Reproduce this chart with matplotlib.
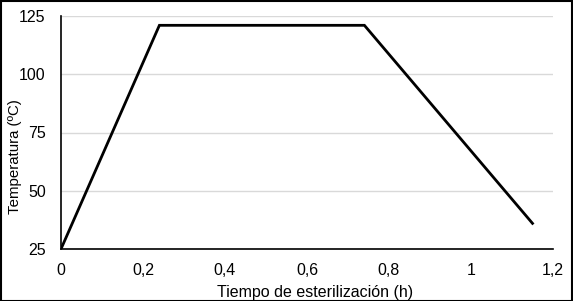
import matplotlib
matplotlib.use("Agg")
import matplotlib.pyplot as plt
from matplotlib.patches import Rectangle

time_h = [0, 0.24, 0.74, 1.15]
temp_c = [25, 121, 121, 36]
xticks = [0, 0.2, 0.4, 0.6, 0.8, 1, 1.2]
xticklabels = ["0", "0,2", "0,4", "0,6", "0,8", "1", "1,2"]
yticks = [25, 50, 75, 100, 125]

plt.rcParams['font.family'] = ['Liberation Sans', 'DejaVu Sans']
fig = plt.figure(figsize=(5.73, 3.01), dpi=100)
ax = fig.add_axes([61/573, 1 - 249/301, (553-61)/573, (249-16)/301])
ax.plot(time_h, temp_c, color='black', lw=2, solid_joinstyle='miter')
ax.set_xlim(0, 1.2)
ax.set_ylim(25, 125)
ax.set_xticks(xticks)
ax.set_xticklabels(xticklabels)
ax.set_yticks(yticks)
ax.yaxis.grid(True, color='#d9d9d9', lw=1)
ax.set_axisbelow(True)
for s in ['top', 'right']:
    ax.spines[s].set_visible(False)
for s in ['left', 'bottom']:
    ax.spines[s].set_linewidth(1.2)
ax.tick_params(axis='x', length=0, labelsize=11.5, pad=10)
ax.tick_params(axis='y', length=0, labelsize=11.5, pad=11)
ax.set_xlabel("Tiempo de esterilización (h)", fontsize=11.5)
ax.set_ylabel("Temperatura (ºC)", fontsize=10.8)
ax.xaxis.set_label_coords((315-61)/492, (249-292)/233)
ax.yaxis.set_label_coords((15-61)/492, (249-157)/233)
ax.xaxis.label.set_va('center')
ax.yaxis.label.set_va('center')
fig.patches.append(Rectangle((0.5/573, 0.5/301), 1 - 1.5/573, 1 - 1.5/301, transform=fig.transFigure,
                             fill=False, edgecolor='black', lw=1.5))
fig.savefig("out.png", dpi=100)
